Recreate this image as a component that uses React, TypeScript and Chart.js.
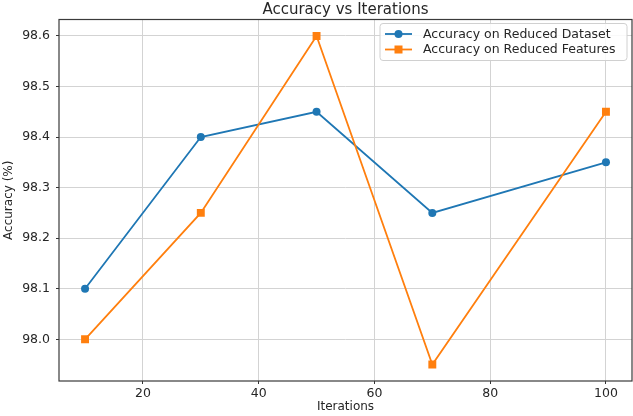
import React, { useEffect, useRef } from "react";
import { Chart, registerables } from "chart.js";

Chart.register(...registerables);

const iterations = [10, 30, 50, 70, 100];
const reducedDataset = [98.1, 98.4, 98.45, 98.25, 98.35];
const reducedFeatures = [98.0, 98.25, 98.6, 97.95, 98.45];
const xTicks = [20, 40, 60, 80, 100];
const yTicks = [98.0, 98.1, 98.2, 98.3, 98.4, 98.5, 98.6];
const seriesNames = ["Accuracy on Reduced Dataset", "Accuracy on Reduced Features"];
const titleText = "Accuracy vs Iterations";
const xTitle = "Iterations";
const yTitle = "Accuracy (%)";

const BLUE = "#1f77b4";
const ORANGE = "#ff7f0e";
const FONT = "'DejaVu Sans', sans-serif";
const TEXT = "#262626";

const framePlugin = {
  id: "frame",
  afterDatasetsDraw(chart: any) {
    const { ctx, chartArea: a } = chart;
    ctx.save();
    ctx.strokeStyle = "#3a3a3a";
    ctx.lineWidth = 1.2;
    ctx.strokeRect(a.left, a.top, a.right - a.left, a.bottom - a.top);
    ctx.restore();
  },
};

const legendPlugin = {
  id: "mplLegend",
  afterDraw(chart: any) {
    const { ctx, chartArea: a } = chart;
    const right = a.right - 5;
    const left = 380;
    const top = a.top + 4;
    const bottom = top + 37;
    ctx.save();
    ctx.beginPath();
    const r = 3;
    ctx.moveTo(left + r, top);
    ctx.lineTo(right - r, top);
    ctx.quadraticCurveTo(right, top, right, top + r);
    ctx.lineTo(right, bottom - r);
    ctx.quadraticCurveTo(right, bottom, right - r, bottom);
    ctx.lineTo(left + r, bottom);
    ctx.quadraticCurveTo(left, bottom, left, bottom - r);
    ctx.lineTo(left, top + r);
    ctx.quadraticCurveTo(left, top, left + r, top);
    ctx.closePath();
    ctx.fillStyle = "rgba(255,255,255,0.85)";
    ctx.fill();
    ctx.strokeStyle = "#d0d0d0";
    ctx.lineWidth = 1;
    ctx.stroke();
    const colors = [BLUE, ORANGE];
    seriesNames.forEach((name, i) => {
      const y = top + 10.5 + i * 15.5;
      ctx.strokeStyle = colors[i];
      ctx.lineWidth = 1.8;
      ctx.beginPath();
      ctx.moveTo(385, y);
      ctx.lineTo(412, y);
      ctx.stroke();
      ctx.fillStyle = colors[i];
      if (i === 0) {
        ctx.beginPath();
        ctx.arc(398.5, y, 4, 0, Math.PI * 2);
        ctx.fill();
      } else {
        ctx.fillRect(394.5, y - 4, 8, 8);
      }
      ctx.fillStyle = TEXT;
      ctx.font = `12.5px ${FONT}`;
      ctx.textBaseline = "middle";
      ctx.textAlign = "left";
      ctx.fillText(name, 423, y + 0.5);
    });
    ctx.restore();
  },
};

export default function App() {
  const ref = useRef<HTMLCanvasElement>(null);
  useEffect(() => {
    if (!ref.current) return;
    const chart = new Chart(ref.current, {
      type: "line",
      data: {
        datasets: [
          {
            label: seriesNames[0],
            data: iterations.map((x, i) => ({ x, y: reducedDataset[i] })),
            borderColor: BLUE,
            backgroundColor: BLUE,
            borderWidth: 1.8,
            pointStyle: "circle",
            pointRadius: 4,
            pointBorderWidth: 0,
            order: 1,
          },
          {
            label: seriesNames[1],
            data: iterations.map((x, i) => ({ x, y: reducedFeatures[i] })),
            borderColor: ORANGE,
            backgroundColor: ORANGE,
            borderWidth: 1.8,
            pointStyle: "rect",
            pointRadius: 5.6,
            pointBorderWidth: 0,
            order: 0,
          },
        ],
      },
      options: {
        responsive: false,
        animation: false,
        devicePixelRatio: 1,
        layout: { autoPadding: false, padding: { left: 0, right: 1, top: 0, bottom: 0 } },
        plugins: {
          legend: { display: false },
          tooltip: { enabled: false },
          title: {
            display: true,
            text: titleText,
            fullSize: false,
            color: TEXT,
            font: { family: FONT, size: 15, weight: "normal", lineHeight: 1.2 },
            padding: { top: 1, bottom: 0.5 },
          },
        },
        scales: {
          x: {
            type: "linear",
            min: 5.5,
            max: 104.5,
            afterBuildTicks(scale: any) {
              scale.ticks = xTicks.map((v) => ({ value: v }));
            },
            afterFit(scale: any) {
              scale.height = 35;
              scale.paddingLeft = 0;
              scale.paddingRight = 0;
            },
            grid: {
              color: "#d3d3d3",
              lineWidth: 1,
              tickLength: 3,
              tickColor: "#333",
            },
            border: { display: false },
            ticks: {
              color: TEXT,
              font: { family: FONT, size: 12.5 },
              padding: 2,
              maxRotation: 0,
            },
            title: {
              display: true,
              text: xTitle,
              color: TEXT,
              font: { family: FONT, size: 12, lineHeight: 1.2 },
              padding: { top: 0, bottom: 2 },
            },
          },
          y: {
            type: "linear",
            min: 97.9175,
            max: 98.6325,
            afterBuildTicks(scale: any) {
              scale.ticks = yTicks.map((v) => ({ value: v }));
            },
            afterFit(scale: any) {
              scale.width = 59;
              scale.paddingTop = 0;
              scale.paddingBottom = 0;
            },
            grid: {
              color: "#d3d3d3",
              lineWidth: 1,
              tickLength: 3,
              tickColor: "#333",
            },
            border: { display: false },
            ticks: {
              color: TEXT,
              font: { family: FONT, size: 12.5 },
              padding: 6,
              callback: (v: any) => Number(v).toFixed(1),
            },
            title: {
              display: true,
              text: yTitle,
              color: TEXT,
              font: { family: FONT, size: 12, lineHeight: 1.2 },
              padding: { top: 2, bottom: 0 },
            },
          },
        },
      },
      plugins: [framePlugin, legendPlugin],
    } as any);
    return () => chart.destroy();
  }, []);
  return (
    <div style={{ position: "fixed", left: 0, top: 0, width: 633, height: 416, background: "#fff" }}>
      <canvas ref={ref} width={633} height={416} />
    </div>
  );
}
